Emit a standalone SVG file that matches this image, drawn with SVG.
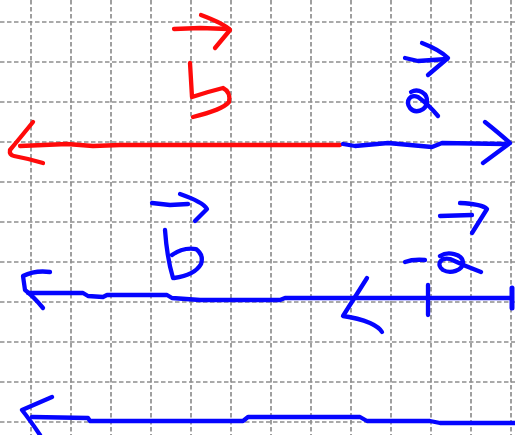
<svg xmlns="http://www.w3.org/2000/svg" width="515" height="435" viewBox="0 0 515 435">
<style>
.grid{stroke:#8f8f8f;stroke-width:1.7;stroke-dasharray:4.5 2.5;fill:none}
.ink{fill:none;stroke-width:4.3;stroke-linecap:round;stroke-linejoin:round}
.red{stroke:#ff0a0a}
.blue{stroke:#0505ff}
</style>
<rect width="515" height="435" fill="#ffffff"/>
<g id="grid" class="grid">
<path d="M31,0V435M71,0V435M111,0V435M151,0V435M191,0V435M231,0V435M271,0V435M311,0V435M351,0V435M391,0V435M431,0V435M471,0V435M511,0V435"/>
<path d="M0,22H515M0,62H515M0,102H515M0,142H515M0,182H515M0,222H515M0,262H515M0,302H515M0,342H515M0,382H515M0,422H515"/>
</g>
<g id="vector-b-red" class="ink red">
<path d="M20,146 L67,144 L93,146 L120,145 L340,145"/>
<path d="M33,122 Q20,138 10,150 Q9,155 14,156 Q30,159 43,163"/>
<path d="M174,29 L200,28 L229,29"/>
<path d="M201,15 Q225,24 230,30 L215,48"/>
<path d="M190,63 L192,97 Q207,92 223,88 Q231,92 229,102 Q222,110 193,117"/>
</g>
<g id="vector-a-top" class="ink blue">
<path d="M343,144 L355,146 L388,143 L432,147 L442,143 L505,144"/>
<path d="M485,122 Q500,134 510,143 L483,163"/>
<path d="M405,58 L418,61 L447,59"/>
<path d="M422,43 Q440,50 448,58 L428,75"/>
<path d="M411,92 C418,88 428,93 427,102 C426,111 415,114 410,108 C405,101 410,94 418,97 Q428,104 438,116"/>
</g>
<g id="vector-b-minus-a" class="ink blue">
<path d="M28,293 L83,293 L88,296 L103,297 L107,295 L167,295 L172,298 L200,300 L280,300 L285,298 L512,298"/>
<path d="M50,272 Q35,270 23,276 L25,290 Q33,296 43,308"/>
<path d="M152,203 L170,205 L188,204"/>
<path d="M180,194 Q203,202 207,209 L195,221"/>
<path d="M165,230 Q167,258 173,278"/>
<path d="M172,255 Q183,247 196,249 Q204,255 201,264 Q195,275 174,278"/>
<path d="M367,278 L343,316 Q358,318 370,323 Q379,327 382,332"/>
<path d="M428,285 L428,315"/>
<path d="M512,288 L512,308" stroke-width="5"/>
<path d="M405,262 Q413,259 425,260"/>
<path d="M440,256 C448,251 462,254 463,262 C463,271 450,274 443,270 C436,265 440,257 450,259 Q465,266 481,272"/>
<path d="M440,216 L472,215"/>
<path d="M460,203 Q482,204 487,209 L472,233"/>
</g>
<g id="vector-bottom" class="ink blue">
<path d="M32,417 L88,418 L90,421 L243,421 L248,417 L360,417 L367,421 L430,421 L440,423 L515,423"/>
<path d="M52,397 Q36,404 22,410 Q30,420 40,435"/>
</g>
</svg>
